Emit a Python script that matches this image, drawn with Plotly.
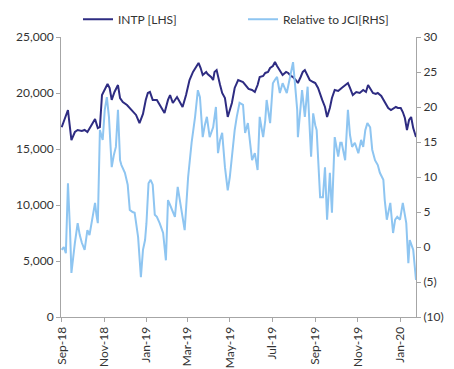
import pandas as pd
import plotly.graph_objects as go

START_DATE = "2018-09-01"

# INTP price (LHS): day offsets from START_DATE and values
INTP_DAY = [0, 4, 9, 14, 19, 23, 29, 33, 37, 43, 48, 52, 55, 58, 62, 66, 69, 72, 76, 81,
            84, 88, 94, 98, 102, 107, 112, 117, 121, 124, 127, 131, 137, 141, 146, 148, 153,
            156, 160, 166, 170, 174, 179, 184, 189, 192, 197, 200, 203, 208, 210, 215, 218,
            220, 223, 228, 231, 235, 239, 242, 245, 249, 254, 261, 265, 269, 274, 278, 282,
            285, 290, 293, 297, 300, 304, 307, 310, 314, 318, 323, 326, 330, 333, 337, 340,
            344, 347, 350, 354, 357, 362, 365, 369, 372, 375, 379, 382, 386, 389, 393, 398,
            403, 408, 412, 415, 419, 424, 429, 434, 438, 441, 445, 448, 452, 455, 460, 463,
            467, 470, 474, 477, 481, 484, 488, 491, 494, 497, 500, 503, 506, 510]
INTP_VAL = [16950, 17590, 18480, 15800, 16520, 16700, 16610, 16700, 16520, 17140, 17680,
            16870, 16950, 19820, 20270, 20800, 20450, 19380, 20090, 20710, 19550, 19200,
            18930, 18660, 18300, 18040, 17320, 18130, 19380, 20000, 20090, 19380, 19380,
            18930, 18480, 18210, 19380, 19820, 19110, 19640, 19200, 18750, 19820, 21160,
            21880, 22230, 22680, 22230, 21610, 21880, 21700, 21430, 21160, 21880, 22050,
            20710, 20000, 19550, 17860, 18480, 19110, 20450, 21160, 20980, 20710, 20360,
            20270, 20090, 20710, 21430, 21520, 21790, 21880, 22230, 22410, 22770, 22410,
            22050, 21610, 21880, 21790, 21520, 21430, 21160, 20890, 21430, 21880, 22050,
            21520, 21160, 20980, 20890, 20450, 20000, 19380, 18750, 17860, 18660, 19550,
            20270, 20180, 20450, 20710, 20890, 20450, 19820, 20090, 20000, 20270, 20090,
            20710, 20270, 20000, 19910, 20000, 19730, 19380, 19020, 18660, 18480, 18570,
            18750, 18660, 18660, 18300, 17770, 16700, 17590, 17860, 16870, 16070]

# Relative performance vs JCI (RHS)
REL_DAY = [0, 3, 6, 9, 12, 14, 19, 23, 26, 29, 33, 37, 40, 43, 48, 50, 52, 55, 59, 62, 65,
           68, 71, 72, 75, 78, 81, 84, 86, 91, 95, 98, 102, 105, 110, 114, 117, 120, 122,
           125, 128, 131, 134, 137, 141, 146, 150, 153, 156, 159, 163, 167, 170, 173, 177,
           182, 184, 187, 192, 196, 199, 203, 206, 209, 213, 218, 222, 225, 228, 231, 235,
           239, 242, 246, 249, 252, 256, 261, 264, 268, 271, 274, 278, 282, 285, 290, 293,
           295, 300, 304, 307, 310, 314, 318, 324, 329, 333, 336, 339, 340, 343, 346, 350,
           354, 359, 362, 365, 367, 372, 376, 379, 382, 386, 389, 393, 398, 401, 403, 408,
           412, 415, 418, 422, 427, 431, 434, 437, 440, 444, 447, 451, 455, 458, 463, 465,
           468, 473, 477, 480, 483, 487, 491, 496, 499, 501, 506, 510]
REL_VAL = [-0.4, 0.0, -0.9, 9.1, 2.4, -3.7, 0.6, 3.4, 1.7, 0.6, -0.4, 2.4, 1.7, 3.4, 6.3,
           4.6, 3.4, 16.7, 15.3, 19.6, 21.4, 18.6, 13.9, 11.4, 13.1, 14.3, 19.6, 12.4, 11.7,
           10.6, 8.9, 5.3, 5.0, 4.9, 1.4, -4.3, -0.4, 1.0, 3.4, 9.1, 9.6, 8.9, 4.6, 4.3, 3.4,
           2.0, -1.9, 6.7, 6.0, 5.3, 4.3, 8.6, 6.7, 5.3, 2.4, 10.0, 12.4, 14.9, 18.6, 22.4,
           21.4, 15.7, 17.4, 18.6, 15.7, 17.1, 20.0, 13.4, 15.3, 16.3, 11.4, 8.1, 10.0, 14.3,
           16.7, 18.6, 20.6, 20.3, 16.3, 17.7, 15.3, 12.4, 13.4, 11.0, 18.6, 15.7, 18.1, 21.0,
           17.7, 23.4, 23.9, 24.3, 22.0, 23.4, 22.0, 24.3, 26.4, 23.1, 19.6, 15.7, 19.6, 22.4,
           18.6, 22.9, 12.9, 19.1, 17.4, 16.7, 7.1, 7.1, 11.4, 3.9, 10.6, 4.9, 15.7, 12.9,
           14.9, 14.9, 12.4, 19.6, 16.0, 14.3, 14.9, 13.4, 15.3, 14.3, 16.7, 17.7, 17.1, 13.9,
           12.4, 11.7, 10.6, 9.6, 6.7, 3.9, 6.3, 2.0, 3.9, 4.3, 3.9, 6.3, 3.4, -2.3, 1.0,
           -0.4, -4.7]

RHS_TICKS = [-10, -5, 0, 5, 10, 15, 20, 25, 30]
RHS_LABELS = ["(10)", "(5)", "0", "5", "10", "15", "20", "25", "30"]
X_TICKS = ["2018-09-01", "2018-11-01", "2019-01-01", "2019-03-01", "2019-05-01",
           "2019-07-01", "2019-09-01", "2019-11-01", "2020-01-01"]
X_LABELS = ["Sep-18", "Nov-18", "Jan-19", "Mar-19", "May-19", "Jul-19", "Sep-19",
            "Nov-19", "Jan-20"]

start = pd.Timestamp(START_DATE)
intp_dates = start + pd.to_timedelta(INTP_DAY, unit="D")
rel_dates = start + pd.to_timedelta(REL_DAY, unit="D")

DARK = "#2E2C82"
LIGHT = "#8EC5F1"
AXIS = "#A6A6A6"
FONT = "Lato"
TXT = "#333333"

fig = go.Figure()
fig.add_trace(go.Scatter(x=rel_dates, y=REL_VAL, name="Relative to JCI[RHS]", mode="lines",
                         line=dict(color=LIGHT, width=2), yaxis="y2", legend="legend2"))
fig.add_trace(go.Scatter(x=intp_dates, y=INTP_VAL, name="INTP [LHS]", mode="lines",
                         line=dict(color=DARK, width=2), yaxis="y", legend="legend"))

leg_common = dict(orientation="h", xref="container", yref="container", xanchor="left",
                  yanchor="middle", y=0.948, font=dict(size=12, color=TXT),
                  bgcolor="rgba(0,0,0,0)", itemwidth=30)

fig.update_layout(
    width=454, height=369,
    margin=dict(l=61, r=38, t=37, b=52, autoexpand=False),
    paper_bgcolor="white", plot_bgcolor="white",
    font=dict(family=FONT, size=12, color=TXT),
    showlegend=True,
    legend=dict(x=78 / 454, **leg_common),
    legend2=dict(x=243 / 454, **leg_common),
    xaxis=dict(type="date", range=["2018-08-31", "2020-01-24"], tickvals=X_TICKS,
               ticktext=X_LABELS, tickangle=-90, showgrid=False, showline=True,
               linecolor=AXIS, linewidth=1, ticks="outside", tickcolor=AXIS, ticklen=4,
               zeroline=False, automargin=False),
    yaxis=dict(range=[0, 25000], dtick=5000, tickformat=",", showgrid=False,
               showline=True, linecolor=AXIS, linewidth=1, ticks="outside",
               tickcolor=AXIS, ticklen=4, zeroline=False, automargin=False),
    yaxis2=dict(range=[-10, 30], tickvals=RHS_TICKS, ticktext=RHS_LABELS,
                overlaying="y", side="right", showgrid=False, showline=True,
                linecolor=AXIS, linewidth=1, ticks="outside", tickcolor=AXIS,
                ticklen=4, zeroline=False, automargin=False),
)

fig.write_html("out.html")
